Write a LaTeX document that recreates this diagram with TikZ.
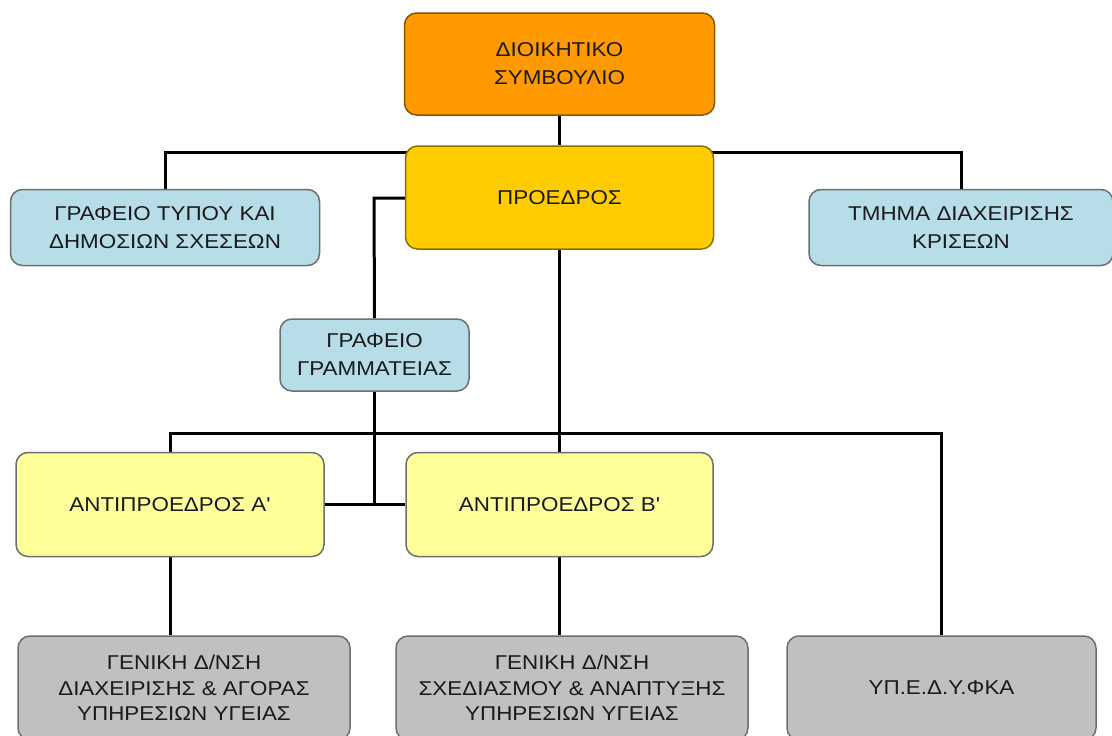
\documentclass[tikz,border=0pt]{standalone}
\usepackage{fontspec}
\setmainfont{Liberation Sans}[FakeStretch=1.12, Ligatures=TeXOff]
\definecolor{cOrange}{HTML}{FF9900}
\definecolor{cGold}{HTML}{FFCC00}
\definecolor{cBlue}{HTML}{B7DDE8}
\definecolor{cYellow}{HTML}{FFFF99}
\definecolor{cGray}{HTML}{C0C0C0}
\definecolor{cBorder}{HTML}{6E6E6E}
\definecolor{cText}{HTML}{1A1A1A}
\pgfdeclarelayer{conn}
\pgfsetlayers{conn,main}
\tikzset{
  box/.style={draw=cBorder, line width=1.5pt, rounded corners=12pt, align=center,
    inner sep=0pt, text=cText, font=\fontsize{20}{28}\selectfont},
  lowbox/.style={box, fill=cGray, minimum height=104pt, font=\fontsize{20}{25.5}\selectfont},
  conn/.style={draw=black, line width=3pt},
}
\begin{document}
\begin{tikzpicture}[x=1pt,y=-1pt]
\useasboundingbox (0,0) rectangle (1112,736);
\node[box, fill=cOrange, draw=cOrange!55!black, minimum width=310pt, minimum height=102pt] (bod) at (559.5,64) {ΔΙΟΙΚΗΤΙΚΟ\\ΣΥΜΒΟΥΛΙΟ};
\node[box, fill=cGold, draw=cGold!55!black, minimum width=308pt, minimum height=103pt] (pr) at (559.5,197.5) {ΠΡΟΕΔΡΟΣ};
\node[box, fill=cBlue, minimum width=309pt, minimum height=76pt] (gt) at (165,227.5) {ΓΡΑΦΕΙΟ ΤΥΠΟΥ ΚΑΙ\\ΔΗΜΟΣΙΩΝ ΣΧΕΣΕΩΝ};
\node[box, fill=cBlue, minimum width=304pt, minimum height=76pt] (tm) at (961,227.5) {ΤΜΗΜΑ ΔΙΑΧΕΙΡΙΣΗΣ\\ΚΡΙΣΕΩΝ};
\node[box, fill=cBlue, minimum width=189pt, minimum height=72pt] (gr) at (374.5,355) {ΓΡΑΦΕΙΟ\\ΓΡΑΜΜΑΤΕΙΑΣ};
\node[box, fill=cYellow, minimum width=308pt, minimum height=104pt] (aa) at (170,504.5) {ΑΝΤΙΠΡΟΕΔΡΟΣ Α'};
\node[box, fill=cYellow, minimum width=307pt, minimum height=104pt] (ab) at (559.5,504.5) {ΑΝΤΙΠΡΟΕΔΡΟΣ Β'};
\node[lowbox, minimum width=332pt] (g1) at (184,688) {ΓΕΝΙΚΗ Δ/ΝΣΗ\\ΔΙΑΧΕΙΡΙΣΗΣ \& ΑΓΟΡΑΣ\\ΥΠΗΡΕΣΙΩΝ ΥΓΕΙΑΣ};
\node[lowbox, minimum width=352pt] (g2) at (572,688) {ΓΕΝΙΚΗ Δ/ΝΣΗ\\ΣΧΕΔΙΑΣΜΟΥ \& ΑΝΑΠΤΥΞΗΣ\\ΥΠΗΡΕΣΙΩΝ ΥΓΕΙΑΣ};
\node[lowbox, minimum width=309pt] (yp) at (941.5,688) {ΥΠ.Ε.Δ.Υ.ΦΚΑ};
\coordinate (tbus) at (0,152);
\coordinate (sec) at (374,198);
\coordinate (bus) at (0,433);
\begin{pgfonlayer}{conn}
\fill[white] (0,0) rectangle (1112,736);
\draw[conn] (bod.south) -- (pr.north);
\draw[conn] (gt.north) -- (gt.north |- tbus) -- (tm.north |- tbus) -- (tm.north);
\draw[conn] (pr.west |- sec) -- (sec) -- (gr.north);
\draw[conn] (gr.south) -- (gr.south |- aa.east);
\draw[conn] (aa.east) -- (ab.west);
\draw[conn] (pr.south) -- (ab.north);
\draw[conn] (aa.north) -- (aa.north |- bus) -- (yp.north |- bus) -- (yp.north);
\draw[conn] (aa.south) -- (aa.south |- g1.north);
\draw[conn] (ab.south) -- (ab.south |- g2.north);
\end{pgfonlayer}
\end{tikzpicture}
\end{document}
